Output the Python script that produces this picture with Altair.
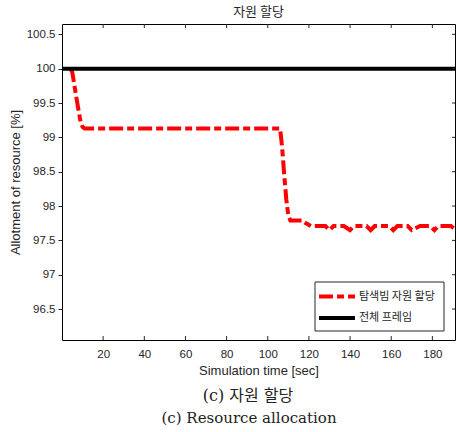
import altair as alt
import pandas as pd

# ---- data ----
red_t = [4, 5, 6, 7, 8, 9, 10, 11, 50, 100, 106, 107, 108, 109, 110, 111, 117, 118, 121,
         128, 130, 132, 137, 140, 142, 148, 150, 152, 159, 161, 163, 168, 170, 174,
         179, 181, 183, 189, 191]
red_v = [100.0, 99.95, 99.76, 99.58, 99.40, 99.23, 99.15, 99.13, 99.13, 99.13, 99.13,
         98.85, 98.45, 98.10, 97.86, 97.79, 97.79, 97.76, 97.71,
         97.71, 97.65, 97.71, 97.71, 97.65, 97.71, 97.71, 97.65, 97.71, 97.71, 97.65,
         97.71, 97.71, 97.65, 97.71, 97.71, 97.65, 97.71, 97.71, 97.66]
black_t = [0, 191]
black_v = [100.0, 100.0]

series_names = ["탐색빔 자원 할당", "전체 프레임"]
x_ticks = [20, 40, 60, 80, 100, 120, 140, 160, 180]
y_ticks = [96.5, 97.0, 97.5, 98.0, 98.5, 99.0, 99.5, 100.0, 100.5]
x_domain = [0, 191]
y_domain = [96.05, 100.65]

title_text = "자원 할당"
x_title = "Simulation time [sec]"
y_title = "Allotment of resource [%]"
captions = ["(c) 자원 할당", "(c) Resource allocation"]

W, H = 393, 316
SANS = "Liberation Sans"
KR = "Noto Sans CJK KR"
SERIF = "DejaVu Serif, Noto Sans CJK KR"
GRAY = "#262626"

red_df = pd.DataFrame({"t": red_t, "v": red_v})
black_df = pd.DataFrame({"t": black_t, "v": black_v})
xt_df = pd.DataFrame({"t": x_ticks})
yt_df = pd.DataFrame({"v": y_ticks})

xs = alt.Scale(domain=x_domain, nice=False, zero=False)
ys = alt.Scale(domain=y_domain, nice=False, zero=False)

x_axis = alt.Axis(values=x_ticks, title=x_title, ticks=False, labelPadding=8,
                  labelOverlap=False, labelFlush=False,
                  labelFont=SANS, labelFontSize=11.5, labelColor=GRAY,
                  titleFont=SANS, titleFontSize=13, titleFontWeight="normal",
                  titleColor=GRAY, titleY=30, titleBaseline="middle",
                  domain=False, grid=False)
y_axis = alt.Axis(values=y_ticks, title=y_title, format="~g", tickSize=4,
                  tickColor=GRAY, labelPadding=3,
                  labelOverlap=False, labelFlush=False,
                  labelFont=SANS, labelFontSize=11.5, labelColor=GRAY,
                  titleFont=SANS, titleFontSize=13, titleFontWeight="normal",
                  titleColor=GRAY, titleAngle=270, titleX=-47, titleY=H / 2,
                  titleAlign="center", titleBaseline="middle",
                  domain=False, grid=False)

red_line = alt.Chart(red_df).mark_line(
    color="#ff0000", strokeWidth=4, strokeDash=[14, 4, 7, 4], clip=True
).encode(
    x=alt.X("t:Q", scale=xs, axis=x_axis, title=x_title),
    y=alt.Y("v:Q", scale=ys, axis=y_axis, title=y_title),
)

black_line = alt.Chart(black_df).mark_line(color="#000000", strokeWidth=4, clip=True).encode(
    x=alt.X("t:Q", scale=xs, axis=x_axis, title=x_title),
    y=alt.Y("v:Q", scale=ys, axis=y_axis, title=y_title),
)

# inward ticks on bottom / top / right (MATLAB style box)
bottom_ticks = alt.Chart(xt_df).mark_rule(color=GRAY, strokeWidth=1).encode(
    x=alt.X("t:Q", scale=xs, axis=x_axis, title=x_title), y=alt.value(H), y2=alt.value(H - 4))
top_ticks = alt.Chart(xt_df).mark_rule(color=GRAY, strokeWidth=1).encode(
    x=alt.X("t:Q", scale=xs, axis=x_axis, title=x_title), y=alt.value(0), y2=alt.value(4))
right_ticks = alt.Chart(yt_df).mark_rule(color=GRAY, strokeWidth=1).encode(
    y=alt.Y("v:Q", scale=ys, axis=y_axis, title=y_title), x=alt.value(W), x2=alt.value(W - 3))

# legend (drawn as a boxed key)
leg_df = pd.DataFrame({"name": series_names})
leg_box = alt.Chart(leg_df.head(1)).mark_rect(
    fill="white", stroke=GRAY, strokeWidth=1
).encode(x=alt.value(253), x2=alt.value(382), y=alt.value(258), y2=alt.value(307))
leg_red = alt.Chart(leg_df.head(1)).mark_rule(
    color="#ff0000", strokeWidth=4, strokeDash=[14, 4, 7, 4]
).encode(x=alt.value(257), x2=alt.value(293), y=alt.value(272.5))
leg_black = alt.Chart(leg_df.head(1)).mark_rule(color="#000000", strokeWidth=4).encode(
    x=alt.value(257), x2=alt.value(293), y=alt.value(294))
leg_txt1 = alt.Chart(pd.DataFrame({"name": [series_names[0]]})).mark_text(
    font=KR, fontSize=11, color=GRAY, align="left", baseline="middle"
).encode(text="name:N", x=alt.value(297), y=alt.value(272.5))
leg_txt2 = alt.Chart(pd.DataFrame({"name": [series_names[1]]})).mark_text(
    font=KR, fontSize=11, color=GRAY, align="left", baseline="middle"
).encode(text="name:N", x=alt.value(297), y=alt.value(294))

cap1 = alt.Chart(pd.DataFrame({"c": [captions[0]]})).mark_text(
    font=SERIF, fontSize=16, color="#222222", align="center", baseline="middle"
).encode(text="c:N", x=alt.value(186), y=alt.value(372))
cap2 = alt.Chart(pd.DataFrame({"c": [captions[1]]})).mark_text(
    font=SERIF, fontSize=15, color="#222222", align="center", baseline="middle"
).encode(text="c:N", x=alt.value(187), y=alt.value(394))

chart = alt.layer(
    red_line, black_line, bottom_ticks, top_ticks, right_ticks,
    leg_box, leg_red, leg_black, leg_txt1, leg_txt2, cap1, cap2,
).properties(
    width=W, height=H,
    title=alt.TitleParams(title_text, font=KR, fontSize=13, fontWeight="normal",
                          color=GRAY, anchor="middle", offset=5),
    autosize=alt.AutoSizeParams(type="none"),
    padding={"left": 62, "top": 24, "right": 1, "bottom": 92},
).configure_axis(
    labelOverlap=False, labelFlush=False
).configure_view(
    stroke="#000000", strokeWidth=1
)

chart.save("out.html", embed_options={"renderer": "svg", "actions": False})
